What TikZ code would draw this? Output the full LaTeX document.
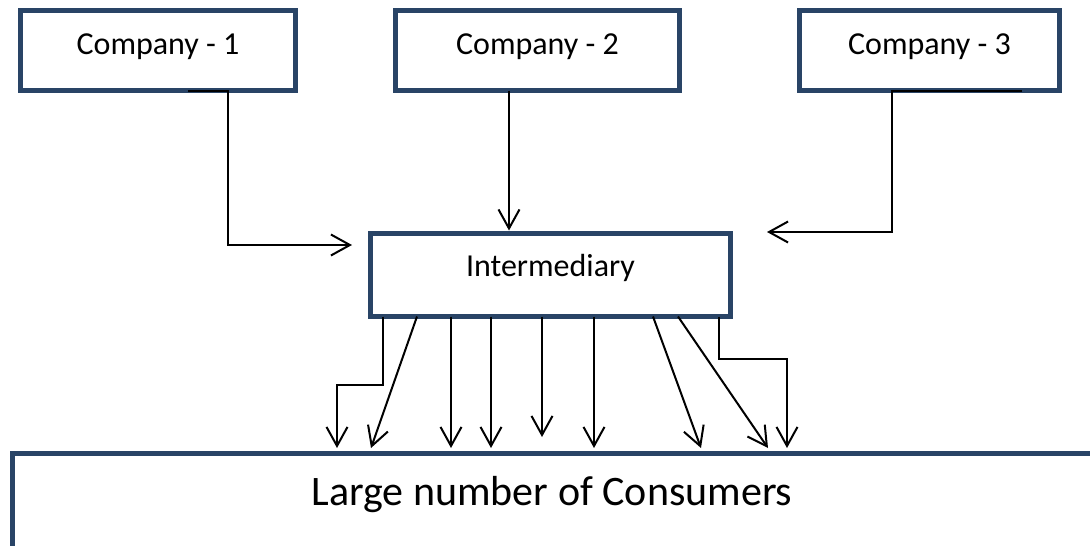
\documentclass[tikz,border=0pt]{standalone}
\usepackage{fontspec}
\setmainfont{Carlito}
\usetikzlibrary{arrows.meta,calc}
\definecolor{boxblue}{RGB}{41,68,102}
\begin{document}
\begin{tikzpicture}[x=1pt,y=-1pt,
  box/.style={draw=boxblue,line width=5pt,fill=white,inner sep=0pt,outer sep=0pt,
    font=\fontsize{32}{38}\selectfont,text height=21pt},
  conn/.style={line width=2pt,
    -{Straight Barb[length=19pt,width=21pt,line width=2pt]}}]
\useasboundingbox (0,0) rectangle (1090,546);
\fill[white] (0,0) rectangle (1090,546);
\clip (0,0) rectangle (1090,546);
% boxes
\node[box,minimum width=275pt,minimum height=80pt,text depth=13pt] (c1) at (158,50.5) {Company - 1};
\node[box,minimum width=284pt,minimum height=80pt,text depth=13pt] (c2) at (537.5,50.5) {Company - 2};
\node[box,minimum width=260pt,minimum height=80pt,text depth=13pt] (c3) at (929.5,50.5) {Company - 3};
\node[box,minimum width=360pt,minimum height=83pt,text depth=18pt] (im) at (550.5,275) {Intermediary};
\node[box,minimum width=1200pt,minimum height=200pt,anchor=north west] (cons) at (12.5,453) {};
\node[font=\fontsize{42}{50}\selectfont,anchor=base,inner sep=0pt] (constext) at (552,505) {Large number of Consumers};
% companies to intermediary
\draw[conn] ([xshift=30pt]c1.south) -- ([xshift=70pt]c1.south) |- ([xshift=-18.5pt,yshift=30pt]im.west);
\draw[conn] ([xshift=-28.5pt]c2.south) -- ([xshift=-41.5pt,yshift=3pt]im.north);
\draw[conn] ([xshift=92.5pt]c3.south) -- ([xshift=-37.5pt]c3.south) |- ([xshift=36.5pt,yshift=43pt]im.east);
% intermediary to consumers
\draw[conn] ([xshift=-167.5pt]im.south) -- ++(0,68.5) -- ++(-46,0) -- ($(im.south |- cons.north)+(-213.5,-5)$);
\draw[conn] ([xshift=-133.5pt]im.south) -- ($(im.south |- cons.north)+(-179.5,-5)$);
\draw[conn] ([xshift=-99.5pt]im.south) -- ($(im.south |- cons.north)+(-99.5,-5)$);
\draw[conn] ([xshift=-59.5pt]im.south) -- ($(im.south |- cons.north)+(-59.5,-5)$);
\draw[conn] ([xshift=-8.5pt]im.south) -- ($(im.south |- cons.north)+(-8.5,-16)$);
\draw[conn] ([xshift=43.5pt]im.south) -- ($(im.south |- cons.north)+(43.5,-5)$);
\draw[conn] ([xshift=102.5pt]im.south) -- ($(im.south |- cons.north)+(150.5,-5)$);
\draw[conn] ([xshift=127.5pt]im.south) -- ($(im.south |- cons.north)+(217.5,-5)$);
\draw[conn] ([xshift=168.5pt]im.south) -- ++(0,42.5) -- ++(68,0) -- ($(im.south |- cons.north)+(236.5,-5)$);
\end{tikzpicture}
\end{document}
